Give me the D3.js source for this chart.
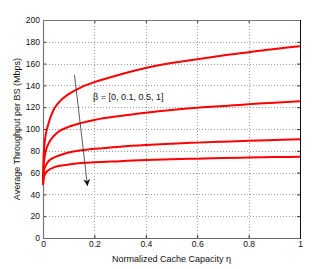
<!DOCTYPE html>
<html><head><meta charset="utf-8">
<script src="https://cdn.jsdelivr.net/npm/d3@7"></script>
<style>body{margin:0;background:#fff}svg{display:block}text{font-family:"Liberation Sans",Arial,sans-serif}</style>
</head><body>
<script>
const eta = [0, 0.002, 0.005, 0.01, 0.02, 0.04, 0.06, 0.1, 0.15, 0.2, 0.3, 0.4, 0.5, 0.6, 0.7, 0.8, 0.9, 1.0];
const beta0 = [49, 72, 84, 94, 104, 117, 124, 132, 138.5, 143, 150, 156, 160.5, 164, 167.5, 170.5, 173.5, 176];
const beta01 = [49, 64, 72, 79, 86, 93, 97.5, 102, 105.6, 108.3, 112, 115, 117.5, 119.5, 121, 122.8, 124, 125.4];
const beta05 = [49, 59, 63, 66, 70, 73.5, 75.5, 78.5, 80.5, 81.8, 83.8, 85.3, 86.5, 87.5, 88.4, 89.2, 89.9, 90.5];
const beta1 = [49, 54, 57, 59.5, 62, 64.5, 66, 67.4, 68.8, 69.5, 70.5, 71.5, 72.2, 72.8, 73.3, 73.8, 74.2, 74.6];
const seriesList = [beta0, beta01, beta05, beta1];
const xTicks = [0, 0.2, 0.4, 0.6, 0.8, 1];
const yTicks = [0, 20, 40, 60, 80, 100, 120, 140, 160, 180, 200];
const annotation = "β = [0, 0.1, 0.5, 1]";
const xLabel = "Normalized Cache Capacity η";
const yLabel = "Average Throughput per BS (Mbps)";

const W = 332, H = 269;
const L = 43, T = 20, R = 300, B = 238;
const svg = d3.select("body").append("svg").attr("width", W).attr("height", H);
const x = d3.scaleLinear().domain([0, 1]).range([L, R]);
const y = d3.scaleLinear().domain([0, 200]).range([B, T]);

// grid
const g = svg.append("g");
g.selectAll(".gx").data(xTicks.slice(1, -1)).join("line")
  .attr("x1", d => Math.round(x(d)) + 0.5).attr("x2", d => Math.round(x(d)) + 0.5)
  .attr("y1", T).attr("y2", B).attr("stroke", "#999").attr("stroke-width", 1).attr("stroke-dasharray", "1,2");
g.selectAll(".gy").data(yTicks.slice(1, -1)).join("line")
  .attr("y1", d => Math.round(y(d)) + 0.5).attr("y2", d => Math.round(y(d)) + 0.5)
  .attr("x1", L).attr("x2", R).attr("stroke", "#999").attr("stroke-width", 1).attr("stroke-dasharray", "1,2");

// axes
const xAxis = d3.axisBottom(x).tickValues(xTicks).tickSize(-3).tickPadding(3).tickFormat(d => d === 0 || d === 1 ? d3.format("d")(d) : d3.format(".1f")(d));
const yAxis = d3.axisLeft(y).tickValues(yTicks).tickSize(-3).tickPadding(3).tickFormat(d3.format("d"));
const ax = svg.append("g").attr("transform", `translate(0,${B})`).call(xAxis);
const ay = svg.append("g").attr("transform", `translate(${L},0)`).call(yAxis);
[ax, ay].forEach(a => {
  a.select(".domain").remove();
  a.selectAll("line").attr("stroke", "#333");
  a.selectAll("text").attr("font-size", 8.5).attr("fill", "#111").attr("font-family", "Liberation Sans, Arial, sans-serif");
});
// opposite ticks
svg.append("g").attr("transform", `translate(0,${T})`).call(d3.axisTop(x).tickValues(xTicks).tickSize(-3).tickFormat(""))
  .call(a => { a.select(".domain").remove(); a.selectAll("line").attr("stroke", "#333"); });
svg.append("g").attr("transform", `translate(${R},0)`).call(d3.axisRight(y).tickValues(yTicks).tickSize(-3).tickFormat(""))
  .call(a => { a.select(".domain").remove(); a.selectAll("line").attr("stroke", "#333"); });

// box
svg.append("line").attr("x1", L).attr("x2", R).attr("y1", T + 0.5).attr("y2", T + 0.5).attr("stroke", "#777");
svg.append("line").attr("x1", L + 0.5).attr("x2", L + 0.5).attr("y1", T).attr("y2", B).attr("stroke", "#777").attr("stroke-width", 1.2);
svg.append("line").attr("x1", L).attr("x2", R + 1).attr("y1", B + 0.5).attr("y2", B + 0.5).attr("stroke", "#666").attr("stroke-width", 1.2);
svg.append("line").attr("x1", R + 0.5).attr("x2", R + 0.5).attr("y1", T).attr("y2", B + 1).attr("stroke", "#111");

// curves
const line = d3.line().x((d, i) => x(eta[i])).y(d => y(d)).curve(d3.curveMonotoneX);
svg.append("g").selectAll("path").data(seriesList).join("path")
  .attr("d", line).attr("fill", "none").attr("stroke", "#ff0000").attr("stroke-width", 2);

// arrow
const defs = svg.append("defs");
defs.append("marker").attr("id", "ah").attr("viewBox", "0 0 10 10").attr("refX", 10).attr("refY", 5)
  .attr("markerWidth", 7).attr("markerHeight", 7).attr("markerUnits", "userSpaceOnUse").attr("orient", "auto")
  .append("path").attr("d", "M0,0 L10,5 L0,10 L3,5 Z").attr("fill", "#111");
svg.append("line").attr("x1", 74.5).attr("y1", 75).attr("x2", 87.5).attr("y2", 186)
  .attr("stroke", "#333").attr("stroke-width", 0.8).attr("marker-end", "url(#ah)");

svg.append("text").attr("x", 93).attr("y", 99.5).attr("font-size", 9).attr("fill", "#111").text(annotation);

svg.append("text").attr("x", (L + R) / 2).attr("y", 262).attr("text-anchor", "middle")
  .attr("font-size", 9).attr("fill", "#111").text(xLabel);
svg.append("text").attr("transform", `translate(20,${(T + B) / 2}) rotate(-90)`).attr("text-anchor", "middle")
  .attr("font-size", 9).attr("fill", "#111").text(yLabel);
</script>
</body></html>
